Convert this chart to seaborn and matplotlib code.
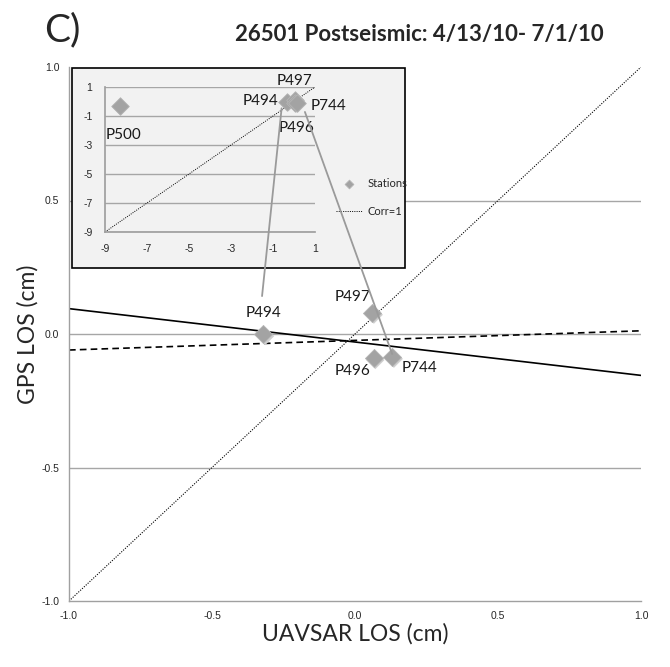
import matplotlib
matplotlib.use("Agg")
import matplotlib.pyplot as plt
import seaborn as sns
import numpy as np
import pandas as pd
from matplotlib.patches import Rectangle, ConnectionPatch

# ---------------- data ----------------
stations = ["P494", "P497", "P496", "P744"]
uavsar = [-0.32, 0.06, 0.065, 0.13]
gps = [0.0, 0.08, -0.09, -0.085]

inset_stations = ["P500", "P494", "P497", "P496", "P744"]
inset_uavsar = [-8.3, -0.32, 0.06, 0.065, 0.13]
inset_gps = [-0.3, 0.0, 0.08, -0.09, -0.085]

corr_x = [-1.0, 1.0]
corr_y = [-1.0, 1.0]
solid_fit_x = [-1.0, 1.0]
solid_fit_y = [0.095, -0.155]
dashed_fit_x = [-1.0, 1.0]
dashed_fit_y = [-0.06, 0.012]
inset_corr = [-9.0, 1.0]

xticks = [-1.0, -0.5, 0.0, 0.5, 1.0]
yticks = [-1.0, -0.5, 0.0, 0.5, 1.0]
inset_xticks = [-9, -7, -5, -3, -1, 1]
inset_yticks = [1, -1, -3, -5, -7, -9]

title = "26501 Postseismic: 4/13/10- 7/1/10"
panel = "C)"

# ---------------- style ----------------
sns.set_theme(style="white")
plt.rcParams['font.family'] = ['Lato', 'DejaVu Sans']
W, H = 670, 667
fig = plt.figure(figsize=(W / 100, H / 100), dpi=100)

def fx(px):
    return px / W

def fy(py):
    return 1 - py / H

ax = fig.add_axes([fx(69), fy(601), fx(641) - fx(69), fy(67) - fy(601)])
df = pd.DataFrame({"x": uavsar, "y": gps, "s": stations})

ax.set_xlim(-1, 1)
ax.set_ylim(-1, 1)
for yv in [0.5, 0.0, -0.5]:
    ax.axhline(yv, color="#a6a6a6", lw=1.0, zorder=0)
sns.lineplot(x=corr_x, y=corr_y, ax=ax, color="black", lw=0.8, linestyle=(0, (1, 1.3)))
sns.lineplot(x=solid_fit_x, y=solid_fit_y, ax=ax, color="black", lw=1.2)
sns.lineplot(x=dashed_fit_x, y=dashed_fit_y, ax=ax, color="black", lw=1.2, linestyle=(0, (4, 2.5)))
ax.scatter(np.array(uavsar) + 0.006, np.array(gps) - 0.008, s=85, marker="D",
           color="#d0d0d0", edgecolor="none", zorder=3)
sns.scatterplot(data=df, x="x", y="y", ax=ax, marker="D", s=85, color="#a3a3a3",
                edgecolor="#b5b5b5", linewidth=0.6, zorder=4, legend=False)

lab_off = {"P494": (0, 15), "P497": (-14, 11), "P496": (-15, -9), "P744": (20, -8)}
for s, xv, yv in zip(stations, uavsar, gps):
    dx, dy = lab_off[s]
    ax.annotate(s, (xv, yv), xytext=(dx, dy), textcoords="offset points",
                ha="center", va="center", fontsize=11, color="#1a1a1a")

ax.set_xticks(xticks)
ax.set_yticks(yticks)
ax.set_xticklabels([f"{v:.1f}" for v in xticks], fontfamily="Liberation Sans", fontsize=7.5)
ax.set_yticklabels([f"{v:.1f}" for v in yticks], fontfamily="Liberation Sans", fontsize=7.5)
ax.tick_params(axis="both", length=4, width=0.8, color="#a0a0a0", direction="inout", pad=5)
for side in ["top", "right"]:
    ax.spines[side].set_visible(False)
for side in ["left", "bottom"]:
    ax.spines[side].set_color("#a0a0a0")
    ax.spines[side].set_linewidth(1.0)
ax.set_xlabel("UAVSAR LOS (cm)", fontsize=16.5, labelpad=2)
ax.set_ylabel("GPS LOS (cm)", fontsize=16.5, labelpad=2)

fig.text(fx(419), fy(34), title, fontsize=16, fontweight="bold", ha="center", va="center")
fig.text(fx(62), fy(30), panel, fontsize=28, ha="center", va="center")

# ---------------- inset ----------------
bg = Rectangle((fx(72), fy(268)), fx(405) - fx(72), fy(68) - fy(268), transform=fig.transFigure,
               facecolor="#f2f2f2", edgecolor="black", lw=1.2, zorder=5)
fig.patches.append(bg)

axi = fig.add_axes([fx(105), fy(232), fx(315) - fx(105), fy(87) - fy(232)], zorder=6)
axi.patch.set_alpha(0)
axi.set_xlim(-9, 1)
axi.set_ylim(-9, 1)
for yv in inset_yticks:
    axi.axhline(yv, color="#a6a6a6", lw=1.0, zorder=0)
sns.lineplot(x=inset_corr, y=inset_corr, ax=axi, color="black", lw=0.7,
             linestyle=(0, (1, 1.3)), label="Corr=1")
idf = pd.DataFrame({"x": inset_uavsar, "y": inset_gps})
axi.scatter(np.array(inset_uavsar) + 0.05, np.array(inset_gps) - 0.08, s=80, marker="D",
            color="#d0d0d0", edgecolor="none", zorder=3)
sns.scatterplot(data=idf, x="x", y="y", ax=axi, marker="D", s=80, color="#a3a3a3",
                edgecolor="#b5b5b5", linewidth=0.6, zorder=4, label="Stations")

ilab = {"P500": (-8.3, -0.3, 3, -21), "P494": (-0.45, -0.05, -17, 1), "P497": (0.0, 0.2, 0, 13),
        "P496": (0.0, -0.2, 2, -17), "P744": (0.2, -0.1, 22, -2)}
for s in inset_stations:
    xv, yv, dx, dy = ilab[s]
    axi.annotate(s, (xv, yv), xytext=(dx, dy), textcoords="offset points",
                 ha="center", va="center", fontsize=11, color="#1a1a1a")

axi.set_xticks(inset_xticks)
axi.set_yticks(inset_yticks)
axi.set_xticklabels([str(v) for v in inset_xticks], fontfamily="Liberation Sans", fontsize=7.5)
axi.set_yticklabels([str(v) for v in inset_yticks], fontfamily="Liberation Sans", fontsize=7.5)
axi.tick_params(axis="both", length=3, width=0.8, color="#a0a0a0", direction="out", pad=6)
for side in ["top", "right"]:
    axi.spines[side].set_visible(False)
for side in ["left", "bottom"]:
    axi.spines[side].set_color("#a0a0a0")
axi.set_xlabel("")
axi.set_ylabel("")
h, l = axi.get_legend_handles_labels()
order = [l.index("Stations"), l.index("Corr=1")]
axi.legend([h[i] for i in order], [l[i] for i in order], loc="center left",
           bbox_to_anchor=(1.05, 0.24), frameon=False, fontsize=8,
           handlelength=2.4, labelspacing=1.5, markerscale=0.5, handletextpad=0.5)

# connector lines from inset to main
for (xa, ya), (xb, yb) in [((-0.59, -0.47), (-0.325, 0.142)), ((0.52, -0.72), (0.13, -0.075))]:
    con = ConnectionPatch(xyA=(xa, ya), coordsA=axi.transData, xyB=(xb, yb), coordsB=ax.transData,
                          color="#9a9a9a", lw=1.3, zorder=10)
    fig.add_artist(con)

fig.savefig("out.png", dpi=100)
